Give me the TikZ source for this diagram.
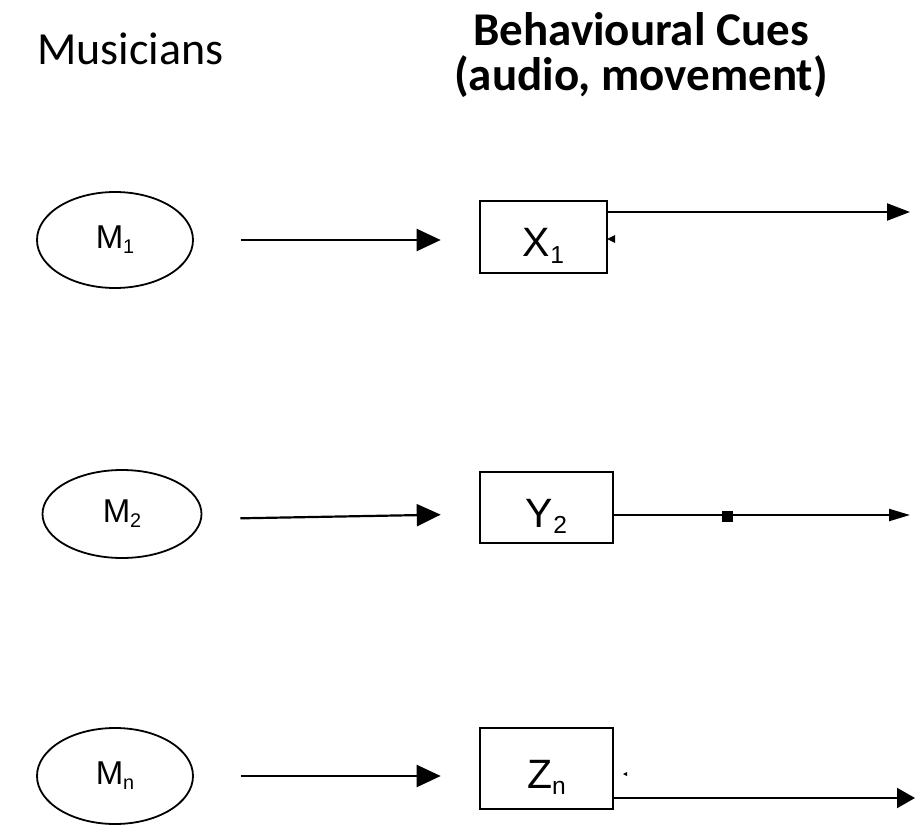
\documentclass[tikz,border=0pt]{standalone}
\usepackage{fontspec,graphicx}
\setmainfont{Carlito}
\newfontfamily\labelfont{Liberation Sans}
\usetikzlibrary{arrows.meta,positioning,shapes.geometric}
\newcommand{\idx}[1]{\raisebox{-0.3ex}{\scalebox{0.6}{#1}}}

\begin{document}
\begin{tikzpicture}[x=1pt,y=-1pt,
  musician/.style={draw,ellipse,line width=1.8pt,inner sep=0pt,minimum width=156pt,minimum height=96pt,font=\labelfont\fontsize{33}{38}\selectfont},
  cue/.style={draw,rectangle,line width=2.6pt,inner sep=0pt,text height=41pt,text depth=1.6pt,font=\labelfont\fontsize{41}{46}\selectfont},
  flow/.style={-{Triangle[length=24pt,width=22pt]},line width=2.2pt},
  outflow/.style={line width=2.2pt}]
  \useasboundingbox (0,0) rectangle (915,826);
  % Headings
  \node[anchor=base west,inner sep=0pt,font=\fontsize{46}{50}\selectfont] (musicians) at (37,65) {Musicians};
  \node[anchor=north,inner sep=0pt,align=center,font=\bfseries\fontsize{47}{45}\selectfont] (cues) at (641,12) {Behavioural Cues\\(audio, movement)};
  % Musicians
  \node[musician] (m1) at (115,240) {M\idx{1}};
  \node[musician,minimum width=159pt,minimum height=88pt] (m2) at (122,514) {M\idx{2}};
  \node[musician] (mn) at (115,776) {M\idx{n}};
  % Cues
  \node[cue,minimum width=127pt,minimum height=72pt] (x1) at (543.5,237) {X\idx{1}};
  \node[cue,minimum width=133pt,minimum height=71pt] (y2) at (546.5,507.5) {Y\idx{2}};
  \node[cue,minimum width=133pt,minimum height=81pt] (zn) at (546.5,768.5) {Z\idx{n}};
  % Arrows
  \draw[flow,shorten <=47pt,shorten >=38pt] (m1.east) -- (m1.east -| x1.west);
  \draw[flow,shorten <=38pt,shorten >=38pt] ([yshift=-5pt]m2.east) -- ([yshift=-6.5pt]y2.west);
  \draw[flow,shorten <=47pt,shorten >=38pt] (mn.east) -- (mn.east -| zn.west);
  % Outputs
  \coordinate (o1) at (910,212);
  \coordinate (o2) at (910,515);
  \coordinate (o3) at (915,798);
  \draw[outflow,-{Triangle[length=23pt,width=17pt]}] (x1.east |- o1) -- (o1);
  \draw[outflow,-{Triangle[length=21pt,width=12pt]}] (y2.east |- o2) -- (o2);
  \draw[outflow,-{Triangle[length=18pt,width=20pt]}] (zn.east |- o3) -- (o3);
  % Stray marks
  \fill (607,239) -- (615,235) -- (615,243) -- cycle;
  \fill (722,511) rectangle (733,522);
  \fill (623,774) -- (627,772) -- (627,776) -- cycle;
\end{tikzpicture}
\end{document}
